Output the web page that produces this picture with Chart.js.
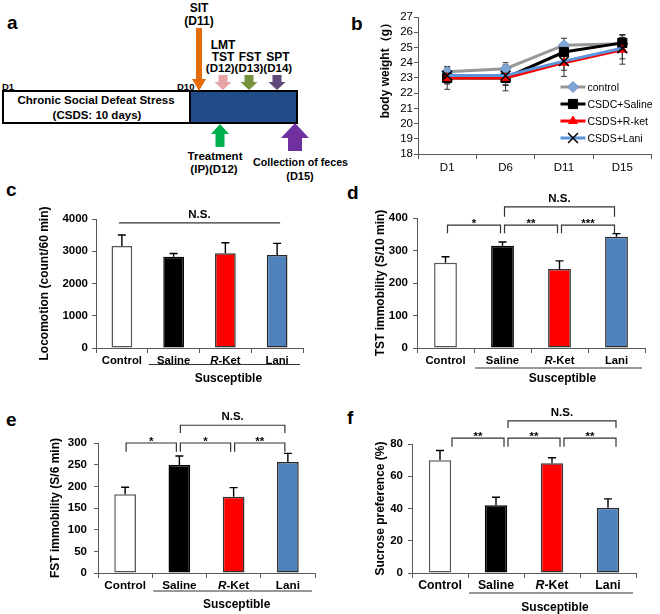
<!DOCTYPE html>
<html>
<head>
<meta charset="utf-8">
<script src="https://cdn.jsdelivr.net/npm/chart.js@4.4.0/dist/chart.umd.min.js"></script>
<style>
body{margin:0;background:#fff;width:660px;height:614px;position:relative;overflow:hidden}
canvas{position:absolute}
svg{position:absolute;left:0;top:0}
</style>
</head>
<body>
<svg width="660" height="614" font-family="Liberation Sans, Arial, sans-serif" font-weight="bold">
  <g font-size="19">
    <text x="7" y="29">a</text>
    <text x="351" y="30">b</text>
    <text x="6" y="196">c</text>
    <text x="347" y="199">d</text>
    <text x="6" y="426">e</text>
    <text x="347" y="424">f</text>
  </g>
  <!-- schematic of panel a -->
  <rect x="3" y="91" width="187" height="32" fill="#fff" stroke="#000" stroke-width="2"/>
  <rect x="190" y="91" width="107" height="32" fill="#204d87" stroke="#000" stroke-width="2"/>
  <g text-anchor="middle" font-size="11.5">
    <text x="96" y="104">Chronic Social Defeat Stress</text>
    <text x="97" y="119">(CSDS: 10 days)</text>
    <text x="199" y="12" font-size="12">SIT</text>
    <text x="199" y="25" font-size="12">(D11)</text>
    <text x="223" y="49" font-size="12">LMT</text>
    <text x="223" y="61" font-size="12">TST</text>
    <text x="250" y="61" font-size="12">FST</text>
    <text x="278" y="61" font-size="12">SPT</text>
    <text x="249" y="72">(D12)(D13)(D14)</text>
    <text x="215" y="160">Treatment</text>
    <text x="214" y="173">(IP)(D12)</text>
    <text x="300" y="180" font-size="11">(D15)</text>
  </g>
  <text x="253" y="166" font-size="10.7">Collection of feces</text>
  <text x="2" y="90" font-size="9.5">D1</text>
  <text x="177" y="90" font-size="9.5">D10</text>
  <polygon points="196,28 202,28 202,79 206,79 199,91 192,79 196,79" fill="#e46c0a"/>
  <polygon points="218.5,75 227.5,75 227.5,82 231.5,82 223,90 214.5,82 218.5,82" fill="#e6a3a3"/>
  <polygon points="244.5,75 253.5,75 253.5,82 257.5,82 249,90 240.5,82 244.5,82" fill="#76923c"/>
  <polygon points="272.5,75 281.5,75 281.5,82 285.5,82 277,90 268.5,82 272.5,82" fill="#5f497a"/>
  <polygon points="220,124 229,134 224.5,134 224.5,147 215.5,147 215.5,134 211,134" fill="#00b050"/>
  <polygon points="295,123 309,138 302,138 302,151 288,151 288,138 281,138" fill="#7030a0"/>
</svg>

<canvas id="cb" width="320" height="185" style="left:340px;top:0"></canvas>
<canvas id="cc" width="330" height="200" style="left:0;top:195px"></canvas>
<canvas id="cd" width="330" height="210" style="left:330px;top:185px"></canvas>
<canvas id="ce" width="330" height="209" style="left:0;top:405px"></canvas>
<canvas id="cf" width="330" height="209" style="left:330px;top:405px"></canvas>

<script>
// ---- data ----
const days = ['D1', 'D6', 'D11', 'D15'];
const bwControl = [23.4, 23.6, 25.15, 25.25];
const bwSaline = [23.0, 23.0, 24.7, 25.3];
const bwRket = [23.0, 23.0, 24.0, 24.85];
const bwLani = [23.15, 23.15, 24.1, 24.95];
const bwControlErr = [0.15, 0.4, 0.45, 0.4];
const bwSalineErr = [0.4, 0.5, 0.5, 0.55];
const bwRketErr = [0.75, 0.85, 0.9, 0.95];
const bwLaniErr = [0.5, 0.6, 0.6, 0.7];
const weightTicks = [18, 27];

const groups = ['Control', 'Saline', 'R-Ket', 'Lani'];
const groupName = 'Susceptible';

const locomotion = [3165, 2830, 2935, 2885];
const locomotionErr = [340, 100, 330, 360];
const tst = [262, 315, 243, 342];
const tstErr = [19, 11, 25, 10];
const fst = [182, 249, 176, 256];
const fstErr = [16, 21, 21, 20];
const sucrose = [70, 42, 68, 40.5];
const sucroseErr = [6, 5, 3.5, 5.5];

// significance marks: [from group, to group, bracket top, leg end, label]
const locoSig = [[0, 3, 3880, 3880, 'N.S.']];
const tstSig = [[0, 1, 378, 353, '*'], [1, 2, 378, 353, '**'], [2, 3, 378, 353, '***'], [1, 3, 434, 404, 'N.S.']];
const fstSig = [[0, 1, 300, 280, '*'], [1, 2, 300, 280, '*'], [2, 3, 300, 280, '**'], [1, 3, 341, 323, 'N.S.']];
const spSig = [[0, 1, 83.6, 78.3, '**'], [1, 2, 83.6, 78.3, '**'], [2, 3, 83.6, 78.3, '**'], [1, 3, 94.3, 90, 'N.S.']];

const FONT = '"Liberation Sans", Arial, sans-serif';
Chart.defaults.font.family = FONT;
Chart.defaults.color = '#000';

// ---- plugins ----
function drawErr(chart, o) {
  const ctx = chart.ctx, y = chart.scales.y, cap = o.cap || 4;
  ctx.save();
  ctx.strokeStyle = o.color || '#000';
  ctx.lineWidth = o.width || 1.3;
  chart.data.datasets.forEach((ds, di) => {
    if (!ds.err) return;
    chart.getDatasetMeta(di).data.forEach((el, i) => {
      const v = ds.data[i], e = ds.err[i];
      const top = y.getPixelForValue(v + e);
      const bot = o.both ? y.getPixelForValue(v - e) : el.y;
      ctx.beginPath();
      ctx.moveTo(el.x, bot); ctx.lineTo(el.x, top);
      ctx.moveTo(el.x - cap, top); ctx.lineTo(el.x + cap, top);
      if (o.both) { ctx.moveTo(el.x - cap, bot); ctx.lineTo(el.x + cap, bot); }
      ctx.stroke();
    });
  });
  ctx.restore();
}
const errBars = {
  id: 'errBars',
  beforeDatasetsDraw(chart, args, o) { if (o.both) drawErr(chart, o); },
  afterDatasetsDraw(chart, args, o) { if (!o.both) drawErr(chart, o); }
};

const brackets = {
  id: 'brackets',
  afterDraw(chart, args, o) {
    if (!o.list) return;
    const {ctx, scales: {x, y}} = chart;
    ctx.save();
    ctx.strokeStyle = '#333'; ctx.lineWidth = 1.2; ctx.fillStyle = '#000';
    ctx.font = 'bold 11.5px ' + FONT; ctx.textAlign = 'center';
    o.list.forEach(([a, b, top, leg, txt]) => {
      const x1 = x.getPixelForValue(a) + o.shift + o.gap;
      const x2 = x.getPixelForValue(b) + o.shift - o.gap;
      const yt = y.getPixelForValue(top), yl = y.getPixelForValue(leg);
      ctx.beginPath();
      ctx.moveTo(x1, yl); ctx.lineTo(x1, yt); ctx.lineTo(x2, yt); ctx.lineTo(x2, yl);
      ctx.stroke();
      ctx.fillText(txt, (x1 + x2) / 2, txt.includes('*') ? yt + 2 : yt - 5);
    });
    ctx.restore();
  }
};

const groupAxis = {
  id: 'groupAxis',
  afterDraw(chart, args, o) {
    if (!o.size) return;
    const {ctx, chartArea: {bottom, right}, scales: {x}} = chart;
    const font = it => (it ? 'italic ' : '') + 'bold ' + o.size + 'px ' + FONT;
    ctx.save();
    ctx.fillStyle = '#000';
    chart.data.labels.forEach((lab, i) => {
      const cx = x.getPixelForValue(i), yb = bottom + o.labY;
      const m = lab.match(/^R(-.*)$/);
      if (m) {
        ctx.font = font(true); const w1 = ctx.measureText('R').width;
        ctx.font = font(false); const w2 = ctx.measureText(m[1]).width;
        const sx = cx - (w1 + w2) / 2;
        ctx.textAlign = 'left';
        ctx.font = font(true); ctx.fillText('R', sx, yb);
        ctx.font = font(false); ctx.fillText(m[1], sx + w1, yb);
      } else {
        ctx.textAlign = 'center'; ctx.font = font(false);
        ctx.fillText(lab, cx, yb);
      }
    });
    const x1 = x.getPixelForValue(0.5) + 1, x2 = right - 3, yl = bottom + o.lineY;
    ctx.strokeStyle = '#333'; ctx.lineWidth = 1.2;
    ctx.beginPath(); ctx.moveTo(x1, yl); ctx.lineTo(x2, yl); ctx.stroke();
    ctx.textAlign = 'center'; ctx.font = 'bold 12px ' + FONT;
    ctx.fillText(o.group, (x1 + x2) / 2 + 4, bottom + o.susY);
    ctx.restore();
  }
};

const innerLegend = {
  id: 'innerLegend',
  afterDraw(chart, args, o) {
    if (!o.show) return;
    const {ctx, chartArea: {right, top}} = chart;
    ctx.save();
    ctx.font = '10.5px ' + FONT; ctx.textBaseline = 'middle'; ctx.textAlign = 'left';
    chart.data.datasets.forEach((ds, i) => {
      const y = top + 70 + i * 17, x0 = right - 91, x1 = right - 66;
      ctx.strokeStyle = ds.borderColor; ctx.lineWidth = ds.borderWidth;
      ctx.beginPath(); ctx.moveTo(x0, y); ctx.lineTo(x1, y); ctx.stroke();
      ctx.fillStyle = ds.pointBackgroundColor; ctx.strokeStyle = ds.pointBorderColor;
      ctx.lineWidth = ds.pointBorderWidth;
      Chart.helpers.drawPoint(ctx, {pointStyle: ds.pointStyle, radius: ds.pointRadius, rotation: 0, borderWidth: ds.pointBorderWidth}, (x0 + x1) / 2, y);
      ctx.fillStyle = '#000';
      ctx.fillText(ds.label, x1 + 2, y + 1);
    });
    ctx.restore();
  }
};

// place the plot area at a fixed spot inside each canvas
function frame(box, area, titleX) {
  const padLeft = titleX - box.x - 7;
  return {
    padding: {left: padLeft, right: box.x + box.w - area.r, top: area.t - box.y, bottom: 0},
    yW: area.l - box.x - padLeft,
    xH: box.y + box.h - area.b
  };
}

const axisGray = '#595959';
const plain = v => String(v);

// ---- b: body weight ----
const fb = frame({x: 340, y: 0, w: 320, h: 185}, {l: 418, r: 655, t: 17, b: 154}, 385);
new Chart(document.getElementById('cb'), {
  type: 'line',
  data: {
    labels: days,
    datasets: [
      {label: 'control', data: bwControl, err: bwControlErr, borderColor: '#979797', borderWidth: 3,
        pointStyle: 'rectRot', pointRadius: 5.5, pointBackgroundColor: '#80a6d8', pointBorderColor: '#6a8fc2', pointBorderWidth: 1, order: 3},
      {label: 'CSDC+Saline', data: bwSaline, err: bwSalineErr, borderColor: '#000', borderWidth: 3,
        pointStyle: 'rect', pointRadius: 6.5, pointBackgroundColor: '#000', pointBorderColor: '#000', pointBorderWidth: 1, order: 2},
      {label: 'CSDS+R-ket', data: bwRket, err: bwRketErr, borderColor: '#ff0000', borderWidth: 3,
        pointStyle: 'triangle', pointRadius: 5, pointBackgroundColor: '#ff0000', pointBorderColor: '#ff0000', pointBorderWidth: 1, order: 1},
      {label: 'CSDS+Lani', data: bwLani, err: bwLaniErr, borderColor: '#5b95dc', borderWidth: 3,
        pointStyle: 'crossRot', pointRadius: 7, pointBackgroundColor: '#000', pointBorderColor: '#000', pointBorderWidth: 1.5, order: 0}
    ]
  },
  options: {
    responsive: false, animation: false,
    layout: {padding: fb.padding},
    elements: {line: {tension: 0}},
    plugins: {
      legend: {display: false}, tooltip: {enabled: false},
      errBars: {both: true, color: '#333', width: 1, cap: 3},
      innerLegend: {show: true}
    },
    scales: {
      x: {
        offset: true,
        afterFit: s => { s.height = fb.xH; },
        grid: {offset: true, drawOnChartArea: false, tickLength: 5, color: axisGray},
        border: {color: axisGray},
        ticks: {font: {size: 11.5}, padding: 2}
      },
      y: {
        min: weightTicks[0], max: weightTicks[1],
        afterFit: s => { s.width = fb.yW; },
        ticks: {stepSize: 1, autoSkip: false, callback: plain, font: {size: 11.5}, padding: 1},
        grid: {drawOnChartArea: false, tickLength: 4, color: axisGray},
        border: {color: axisGray},
        title: {display: true, text: 'body weight（g）', align: 'end', font: {size: 12, weight: 'bold'}, padding: 0}
      }
    }
  },
  plugins: [errBars, innerLegend]
});

// ---- c-f: bar panels ----
const barFill = ['#ffffff', '#000000', '#ff0000', '#4f81bd'];
const barEdge = ['#555555', '#000000', '#333333', '#2a2a2a'];

function barPanel(id, box, area, titleX, o) {
  const f = frame(box, area, titleX);
  return new Chart(document.getElementById(id), {
    type: 'bar',
    data: {
      labels: groups,
      datasets: [{data: o.values, err: o.errs, backgroundColor: barFill, borderColor: barEdge,
        borderWidth: 1.5, borderSkipped: false, barPercentage: 0.4, categoryPercentage: 1}]
    },
    options: {
      responsive: false, animation: false,
      layout: {padding: f.padding},
      plugins: {
        legend: {display: false}, tooltip: {enabled: false},
        errBars: {both: false, color: '#000', width: 1.4, cap: 4},
        brackets: {list: o.sig, shift: o.shift, gap: o.gap},
        groupAxis: {size: o.lab, labY: 16, lineY: o.lineY, susY: o.susY, group: groupName}
      },
      scales: {
        x: {
          afterFit: s => { s.height = f.xH; },
          grid: {drawOnChartArea: false, tickLength: 5, color: axisGray},
          border: {color: axisGray},
          ticks: {color: 'rgba(0,0,0,0)'}
        },
        y: {
          min: 0, max: o.max,
          afterFit: s => { s.width = f.yW; },
          ticks: {stepSize: o.step, autoSkip: false, callback: plain, font: {size: 11.5, weight: 'bold'}, padding: o.tickPad},
          grid: {drawOnChartArea: false, tickLength: 4, color: axisGray},
          border: {color: axisGray},
          title: {display: true, text: o.title, font: {size: 12, weight: 'bold'}, padding: 0}
        }
      }
    },
    plugins: [errBars, brackets, groupAxis]
  });
}

barPanel('cc', {x: 0, y: 195, w: 330, h: 200}, {l: 96, r: 303, t: 219, b: 348}, 44, {
  values: locomotion, errs: locomotionErr, max: 4000, step: 1000, title: 'Locomotion (count/60 min)',
  sig: locoSig, shift: 0, gap: -3, lab: 11.3, lineY: 16.5, susY: 33.5, tickPad: 4
});
barPanel('cd', {x: 330, y: 185, w: 330, h: 210}, {l: 417, r: 645, t: 218, b: 348}, 380, {
  values: tst, errs: tstErr, max: 400, step: 100, title: 'TST immobility (S/10 min)',
  sig: tstSig, shift: 0, gap: 2, lab: 11.3, lineY: 20, susY: 33.5, tickPad: 5
});
barPanel('ce', {x: 0, y: 405, w: 330, h: 209}, {l: 98, r: 315, t: 443, b: 573}, 55, {
  values: fst, errs: fstErr, max: 300, step: 50, title: 'FST immobility (S/6 min)',
  sig: fstSig, shift: -1, gap: 2, lab: 11.7, lineY: 18, susY: 34.5, tickPad: 7
});
barPanel('cf', {x: 330, y: 405, w: 330, h: 209}, {l: 412, r: 636, t: 444, b: 573}, 380, {
  values: sucrose, errs: sucroseErr, max: 80, step: 20, title: 'Sucrose preference (%)',
  sig: spSig, shift: 10, gap: 2, lab: 12.3, lineY: 20, susY: 37.5, tickPad: 5
});
</script>
</body>
</html>
